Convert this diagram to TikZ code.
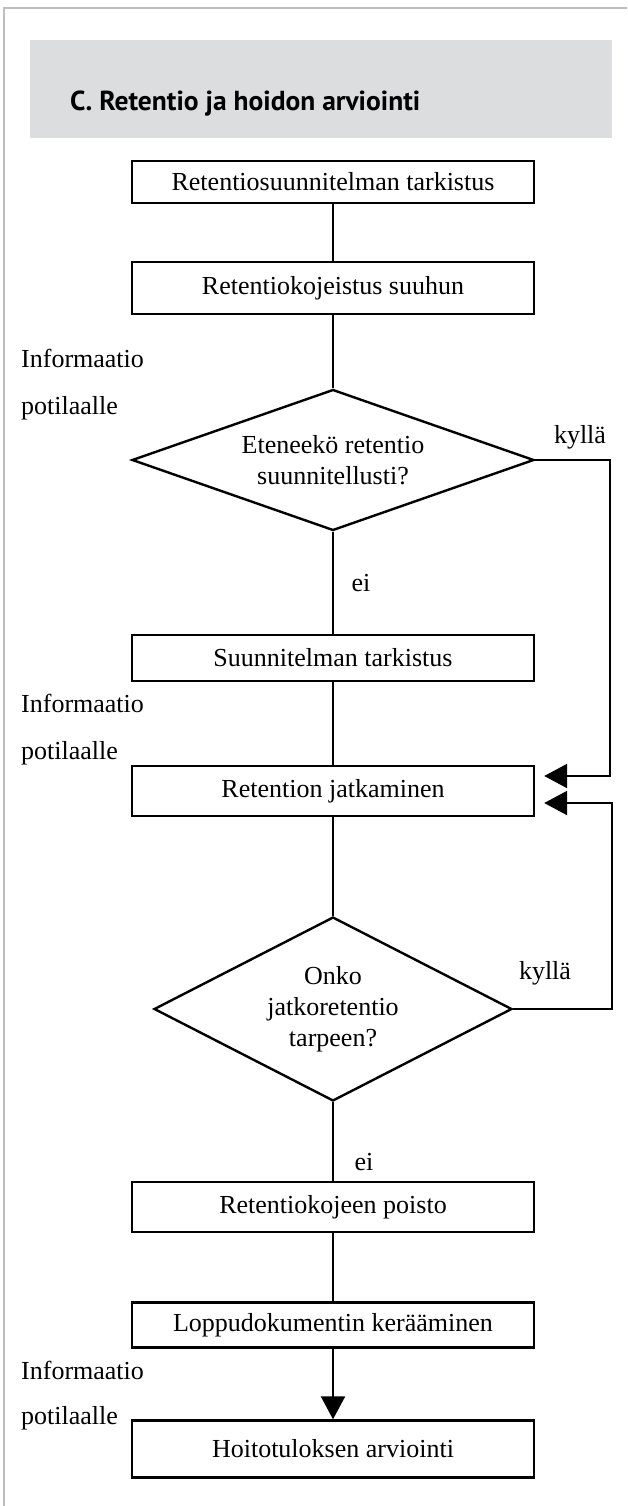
\documentclass[tikz,border=0pt]{standalone}
\usepackage{fontspec}
\setmainfont{Liberation Serif}
\newfontfamily\titlefont{PT Sans}
\usetikzlibrary{arrows.meta,positioning,shapes.geometric,calc}

\definecolor{headergray}{RGB}{220,221,223}
\definecolor{framegray}{RGB}{190,190,190}
\newcommand{\bodyfont}{\fontsize{26}{31}\selectfont}

\tikzset{
  stepbox/.style={draw, line width=2.4pt, minimum width=402pt, inner sep=0pt},
  decision/.style={draw, diamond, line width=2.4pt, inner sep=0pt, align=center},
  flow/.style={line width=2.3pt},
  flowarrow/.style={line width=2.3pt, -{Triangle[length=23pt,width=24pt]}},
  sidenote/.style={anchor=base west, inner sep=0pt},
}

\begin{document}
\begin{tikzpicture}[x=1pt, y=-1pt, font=\bodyfont]
\useasboundingbox (0,0) rectangle (627,1506);

% page frame and header band
\draw[framegray, line width=2pt] (4,1506) -- (4,8) -- (627,8);
\fill[headergray] (30,40) rectangle (612,138);
\node[anchor=base west, inner sep=0pt, font=\titlefont\bfseries\fontsize{27.5}{32}\selectfont] (title) at (70,111) {C. Retentio ja hoidon arviointi};

% main column
\node[stepbox, minimum height=42pt] (check) at (333,182) {Retentiosuunnitelman tarkistus};
\node[stepbox, minimum height=52pt] (fitting) at (333,288) {Retentiokojeistus suuhun};
\node[decision, aspect=2.85, minimum width=402pt, minimum height=141pt] (ontrack) at (333,460) {Eteneekö retentio\\suunnitellusti?};
\node[stepbox, minimum height=46pt] (revise) at (333,658) {Suunnitelman tarkistus};
\node[stepbox, minimum height=50pt] (continue) at (333,791) {Retention jatkaminen};
\node[decision, aspect=1.95, minimum width=358pt, minimum height=184pt] (more) at (333,1009) {Onko\\jatkoretentio\\tarpeen?};
\node[stepbox, minimum height=50pt] (removal) at (333,1207) {Retentiokojeen poisto};
\node[stepbox, minimum height=45pt] (finaldoc) at (333,1325) {Loppudokumentin kerääminen};
\node[stepbox, minimum height=57pt] (outcome) at (333,1449) {Hoitotuloksen arviointi};

% connectors
\draw[flow] (check) -- (fitting);
\draw[flow] (fitting) -- (ontrack);
\draw[flow] (ontrack) -- (revise);
\draw[flow] (revise) -- (continue);
\draw[flow] (continue) -- (more);
\draw[flow] (more) -- (removal);
\draw[flow] (removal) -- (finaldoc);
\draw[flowarrow] (finaldoc) -- (outcome);

% yes loops back to the continuation box
\coordinate (inA) at ($(continue.east)+(9,-15)$);
\coordinate (inB) at ($(continue.east)+(9,12)$);
\draw[flowarrow] (ontrack.east) -- ++(75,0) |- (inA);
\draw[flowarrow] (more.east) -- ++(99,0) |- (inB);

% branch labels
\node (yesA) at (580,437) {kyllä};
\node (yesB) at (545,973) {kyllä};
\node (noA) at (361,583) {ei};
\node (noB) at (364,1162) {ei};

% patient information notes
\foreach \y/\d in {367/47, 712/47, 1379/45} {
  \node[sidenote] (info\y) at (21,\y) {Informaatio};
  \node[sidenote] (pat\y) at (21,\y+\d) {potilaalle};
}

\end{tikzpicture}
\end{document}
